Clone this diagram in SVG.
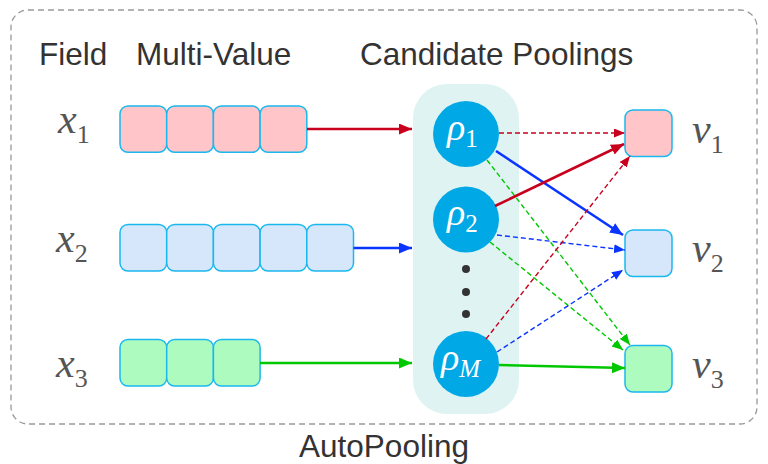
<svg xmlns="http://www.w3.org/2000/svg" width="768" height="464" viewBox="0 0 768 464">
<style>
.title{font-family:"Liberation Sans",Arial,sans-serif;font-size:31.5px;fill:#333}
.math{font-family:"Liberation Serif","Times New Roman",serif;font-style:italic;fill:#555}
.sub{font-style:normal}
.rho{font-family:"Liberation Serif","Times New Roman",serif;font-style:italic;fill:#fff;font-size:38px}
.cell{stroke:#1ab8ee;stroke-width:1.5}
.pink{fill:#ffc5c9}
.lblue{fill:#d6e7fb}
.lgreen{fill:#aefbbf}
.pool{fill:#00a8e6}
.solid{fill:none;stroke-width:2.5}
.dash{fill:none;stroke-width:1.4;stroke-dasharray:5 3}
.r{stroke:#c8001e}
.b{stroke:#0a34ff}
.g{stroke:#00c800}
</style>
<defs>
<marker id="ar" markerUnits="userSpaceOnUse" markerWidth="14" markerHeight="12" refX="13" refY="5.5" orient="auto"><path d="M0,0 L13,5.5 L0,11 z" fill="#c8001e"/></marker>
<marker id="ab" markerUnits="userSpaceOnUse" markerWidth="14" markerHeight="12" refX="13" refY="5.5" orient="auto"><path d="M0,0 L13,5.5 L0,11 z" fill="#0a34ff"/></marker>
<marker id="ag" markerUnits="userSpaceOnUse" markerWidth="14" markerHeight="12" refX="13" refY="5.5" orient="auto"><path d="M0,0 L13,5.5 L0,11 z" fill="#00c800"/></marker>
<marker id="dr" markerUnits="userSpaceOnUse" markerWidth="12" markerHeight="10" refX="11" refY="4.5" orient="auto"><path d="M0,0 L11,4.5 L0,9 z" fill="#c8001e"/></marker>
<marker id="db" markerUnits="userSpaceOnUse" markerWidth="12" markerHeight="10" refX="11" refY="4.5" orient="auto"><path d="M0,0 L11,4.5 L0,9 z" fill="#0a34ff"/></marker>
<marker id="dg" markerUnits="userSpaceOnUse" markerWidth="12" markerHeight="10" refX="11" refY="4.5" orient="auto"><path d="M0,0 L11,4.5 L0,9 z" fill="#00c800"/></marker>
</defs>
<rect width="768" height="464" fill="#fff"/>
<g id="frame">
<rect x="11" y="10" width="746" height="414" rx="17" fill="none" stroke="#999" stroke-width="1.3" stroke-dasharray="6 4"/>
<text class="title" x="384" y="457" text-anchor="middle">AutoPooling</text>
</g>
<g id="headers">
<text class="title" x="39" y="65">Field</text>
<text class="title" x="136" y="65">Multi-Value</text>
<text class="title" x="360" y="65">Candidate Poolings</text>
</g>
<g id="pool-bg"><rect x="413" y="84" width="106" height="330" rx="34" fill="#dff3f3"/></g>
<g id="x1">
<text class="math" x="58" y="133" font-size="42">x<tspan class="sub" font-size="26" dy="10">1</tspan></text>
<rect class="cell pink" x="120" y="106" width="46.7" height="46.3" rx="8"/>
<rect class="cell pink" x="166.7" y="106" width="46.7" height="46.3" rx="8"/>
<rect class="cell pink" x="213.4" y="106" width="46.7" height="46.3" rx="8"/>
<rect class="cell pink" x="260.1" y="106" width="46.7" height="46.3" rx="8"/>
</g>
<g id="x2">
<text class="math" x="56" y="252" font-size="42">x<tspan class="sub" font-size="26" dy="10">2</tspan></text>
<rect class="cell lblue" x="120" y="224.5" width="46.7" height="46.5" rx="8"/>
<rect class="cell lblue" x="166.7" y="224.5" width="46.7" height="46.5" rx="8"/>
<rect class="cell lblue" x="213.4" y="224.5" width="46.7" height="46.5" rx="8"/>
<rect class="cell lblue" x="260.1" y="224.5" width="46.7" height="46.5" rx="8"/>
<rect class="cell lblue" x="306.8" y="224.5" width="46.7" height="46.5" rx="8"/>
</g>
<g id="x3">
<text class="math" x="56" y="377" font-size="42">x<tspan class="sub" font-size="26" dy="10">3</tspan></text>
<rect class="cell lgreen" x="120" y="339.5" width="46.7" height="46.5" rx="8"/>
<rect class="cell lgreen" x="166.7" y="339.5" width="46.7" height="46.5" rx="8"/>
<rect class="cell lgreen" x="213.4" y="339.5" width="46.7" height="46.5" rx="8"/>
</g>
<g id="rho1">
<circle class="pool" cx="466" cy="134" r="33"/>
<text class="rho" x="447" y="140">ρ<tspan class="sub" font-size="25" dy="7">1</tspan></text>
</g>
<g id="rho2">
<circle class="pool" cx="466" cy="219.5" r="33"/>
<text class="rho" x="447" y="225">ρ<tspan class="sub" font-size="25" dy="7">2</tspan></text>
</g>
<g id="dots" fill="#333">
<circle cx="466" cy="269" r="4"/>
<circle cx="466" cy="292" r="4"/>
<circle cx="466" cy="314" r="4"/>
</g>
<g id="rhoM">
<circle class="pool" cx="466" cy="364" r="33"/>
<text class="rho" x="441" y="370">ρ<tspan font-size="25" dy="7">M</tspan></text>
</g>
<g id="v1">
<rect class="cell pink" x="625" y="110" width="47" height="46.5" rx="8"/>
<text class="math" x="692" y="143" font-size="42">v<tspan class="sub" font-size="26" dy="10">1</tspan></text>
</g>
<g id="v2">
<rect class="cell lblue" x="625" y="230" width="47" height="46.5" rx="8"/>
<text class="math" x="692" y="262" font-size="42">v<tspan class="sub" font-size="26" dy="10">2</tspan></text>
</g>
<g id="v3">
<rect class="cell lgreen" x="625" y="345.5" width="47" height="46.5" rx="8"/>
<text class="math" x="692" y="378" font-size="42">v<tspan class="sub" font-size="26" dy="10">3</tspan></text>
</g>
<g id="connectors">
<line class="solid r" x1="307" y1="129" x2="412" y2="129" marker-end="url(#ar)"/>
<line class="solid b" x1="353.5" y1="248" x2="412" y2="248" marker-end="url(#ab)"/>
<line class="solid g" x1="260" y1="363" x2="412" y2="363" marker-end="url(#ag)"/>
<line class="dash r" x1="499" y1="133" x2="625" y2="133" marker-end="url(#dr)"/>
<line class="solid b" x1="496" y1="151" x2="623" y2="235" marker-end="url(#ab)"/>
<line class="dash g" x1="487" y1="160" x2="630" y2="345" marker-end="url(#dg)"/>
<line class="solid r" x1="495" y1="206" x2="624" y2="144" marker-end="url(#ar)"/>
<line class="dash b" x1="497" y1="235" x2="625" y2="250" marker-end="url(#db)"/>
<line class="dash g" x1="490" y1="242" x2="623" y2="350" marker-end="url(#dg)"/>
<line class="dash r" x1="486" y1="339" x2="630" y2="156" marker-end="url(#dr)"/>
<line class="dash b" x1="497" y1="352" x2="623" y2="270" marker-end="url(#db)"/>
<line class="solid g" x1="499" y1="365" x2="625" y2="368" marker-end="url(#ag)"/>
</g>
</svg>
